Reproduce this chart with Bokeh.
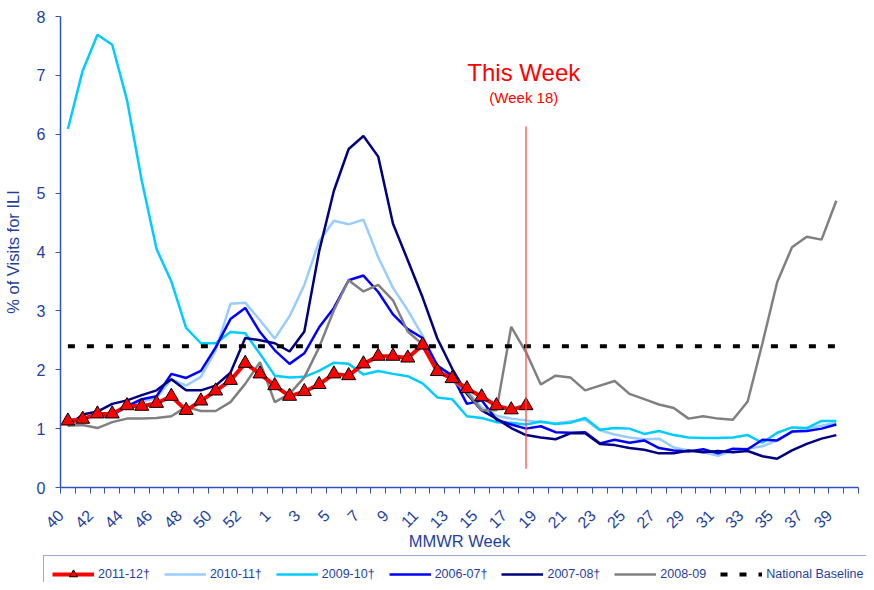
import math
from bokeh.plotting import figure
from bokeh.layouts import column
from bokeh.models import Range1d, FixedTicker, Legend, LegendItem, Label
from bokeh.embed import file_html
from bokeh.resources import INLINE

# MMWR weeks on the x axis (season runs week 40 -> week 39)
weeks = list(range(40, 54)) + list(range(1, 40))

s2011_12 = [1.13, 1.16, 1.25, 1.25, 1.39, 1.38, 1.43, 1.55, 1.31, 1.47, 1.64, 1.82, 2.11, 1.93,
            1.73, 1.55, 1.63, 1.75, 1.93, 1.90, 2.10, 2.23, 2.23, 2.20, 2.42, 1.97, 1.85, 1.68,
            1.54, 1.39, 1.32, 1.39]
s2010_11 = [1.15, 1.18, 1.24, 1.26, 1.38, 1.46, 1.52, 1.84, 1.73, 1.88, 2.33, 3.12, 3.14, 2.84,
            2.53, 2.91, 3.44, 4.18, 4.53, 4.47, 4.55, 3.91, 3.39, 3.01, 2.58, 2.08, 1.87, 1.65,
            1.36, 1.22, 1.17, 1.14, 1.11, 1.09, 1.12, 1.15, 0.97, 0.90, 0.85, 0.82, 0.83, 0.68,
            0.63, 0.60, 0.54, 0.63, 0.66, 0.70, 0.80, 0.94, 1.00, 1.05, 1.10]
s2009_10 = [6.09, 7.08, 7.69, 7.52, 6.58, 5.21, 4.05, 3.50, 2.71, 2.45, 2.45, 2.64, 2.62, 2.27,
            1.90, 1.87, 1.88, 1.98, 2.12, 2.10, 1.92, 1.98, 1.93, 1.89, 1.77, 1.53, 1.50, 1.21,
            1.18, 1.11, 1.10, 1.07, 1.12, 1.08, 1.10, 1.18, 0.98, 1.01, 1.00, 0.91, 0.96, 0.89,
            0.85, 0.84, 0.84, 0.85, 0.89, 0.76, 0.93, 1.02, 1.01, 1.13, 1.13]
s2006_07 = [1.12, 1.18, 1.22, 1.23, 1.38, 1.50, 1.55, 1.93, 1.86, 1.98, 2.38, 2.86, 3.05, 2.64,
            2.33, 2.10, 2.28, 2.72, 3.05, 3.52, 3.60, 3.32, 2.94, 2.69, 2.54, 2.07, 1.90, 1.42,
            1.48, 1.15, 1.07, 1.00, 1.04, 0.94, 0.93, 0.94, 0.75, 0.81, 0.76, 0.80, 0.67, 0.63,
            0.61, 0.65, 0.58, 0.66, 0.65, 0.81, 0.80, 0.95, 0.96, 1.00, 1.07]
s2007_08 = [1.04, 1.24, 1.29, 1.42, 1.48, 1.57, 1.65, 1.84, 1.65, 1.65, 1.73, 1.95, 2.54, 2.50,
            2.45, 2.31, 2.65, 4.01, 5.04, 5.75, 5.97, 5.62, 4.48, 3.86, 3.23, 2.53, 2.02, 1.59,
            1.31, 1.17, 1.01, 0.89, 0.85, 0.82, 0.92, 0.92, 0.74, 0.72, 0.67, 0.64, 0.58, 0.58,
            0.63, 0.60, 0.62, 0.60, 0.62, 0.53, 0.49, 0.63, 0.74, 0.83, 0.89]
s2008_09 = [1.05, 1.06, 1.01, 1.11, 1.17, 1.17, 1.18, 1.21, 1.37, 1.30, 1.30, 1.45, 1.76, 2.13,
            1.45, 1.59, 1.87, 2.38, 3.01, 3.52, 3.33, 3.44, 3.18, 2.65, 2.43, 2.00, 1.82, 1.62,
            1.31, 1.31, 2.73, 2.30, 1.75, 1.90, 1.87, 1.65, 1.73, 1.81, 1.59, 1.50, 1.41, 1.35,
            1.17, 1.21, 1.17, 1.15, 1.46, 2.45, 3.49, 4.08, 4.26, 4.21, 4.87]
national_baseline = 2.4
this_week = 18
y_ticks = [0, 1, 2, 3, 4, 5, 6, 7, 8]

FONT = "Liberation Sans"
AXIS_COLOR = "#3355BB"
TEXT_COLOR = "#1F3FA0"

xs = list(range(len(weeks)))
n_slots = len(weeks) + 1

p = figure(frame_width=798, frame_height=471, output_backend="svg", toolbar_location=None,
           x_range=Range1d(-0.5, n_slots - 0.5), y_range=Range1d(0, 8),
           min_border_left=53, min_border_right=7, min_border_top=16, min_border_bottom=66)
p.frame_align = False
p.outline_line_color = None
p.grid.visible = False
p.background_fill_color = "white"
p.border_fill_color = "white"

# x axis: tick marks between categories, labels on every other week
xa = p.xaxis[0]
bounds = [i - 0.5 for i in range(n_slots + 1)]
xa.ticker = FixedTicker(ticks=bounds, minor_ticks=[])
xa.major_label_overrides = {
    i - 0.5: (str(weeks[i]) if (i < len(weeks) and i % 2 == 0) else "")
    for i in range(n_slots + 1)
}
xa.major_label_orientation = math.pi / 4
xa.major_tick_out = 6
xa.major_tick_in = 0
xa.minor_tick_out = 0
xa.minor_tick_in = 0
xa.major_label_standoff = 19
xa.axis_label = "MMWR Week"
xa.axis_label_standoff = -5

ya = p.yaxis[0]
ya.ticker = FixedTicker(ticks=y_ticks, minor_ticks=[])
ya.major_tick_out = 5
ya.major_tick_in = 0
ya.minor_tick_out = 0
ya.minor_tick_in = 0
ya.major_label_standoff = 10
ya.axis_label = "% of Visits for ILI"
ya.axis_label_standoff = 12

for ax in (xa, ya):
    ax.axis_line_color = AXIS_COLOR
    ax.axis_line_width = 1.5
    ax.major_tick_line_color = AXIS_COLOR
    ax.major_tick_line_width = 1
    ax.major_label_text_color = TEXT_COLOR
    ax.major_label_text_font = FONT
    ax.major_label_text_font_size = "16px"
    ax.axis_label_text_color = TEXT_COLOR
    ax.axis_label_text_font = FONT
    ax.axis_label_text_font_size = "16.5px"
    ax.axis_label_text_font_style = "normal"

lw = 2.5
styles = {
    "2010-11": dict(line_color="#99CCFF", line_width=lw),
    "2009-10": dict(line_color="#00CCFF", line_width=lw),
    "2006-07": dict(line_color="#0000FF", line_width=lw),
    "2007-08": dict(line_color="#000080", line_width=lw),
    "2008-09": dict(line_color="#808080", line_width=lw),
}
base_style = dict(line_color="black", line_width=4, line_dash="7 12")
red_style = dict(line_color="#FF0000", line_width=4)
tri_style = dict(marker="triangle", fill_color="#FF0000", line_color="black", line_width=1)

p.line(xs, s2010_11, **styles["2010-11"])
p.line(xs, s2009_10, **styles["2009-10"])
p.line(xs, s2006_07, **styles["2006-07"])
p.line(xs, s2007_08, **styles["2007-08"])
p.line(xs, s2008_09, **styles["2008-09"])
p.line(xs, [national_baseline] * len(xs), **base_style)

xr = xs[:len(s2011_12)]
p.line(xr, s2011_12, **red_style)
p.scatter(xr, s2011_12, size=14, **tri_style)

# "This Week" marker
tw = weeks.index(this_week, 14)
p.segment(x0=[tw], y0=[0.32], x1=[tw], y1=[6.13], line_color="#FF4A4A", line_width=1.3)
p.add_layout(Label(x=tw - 0.15, y=7.045, text="This Week", text_align="center",
                   text_baseline="middle", text_font=FONT, text_font_size="24px",
                   text_color="#FF0000"))
p.add_layout(Label(x=tw - 0.15, y=6.625, text="(Week %d)" % this_week, text_align="center",
                   text_baseline="middle", text_font=FONT, text_font_size="15px",
                   text_color="#FF0000"))

# Legend strip below the chart (separate canvas so it is not clipped).
# Its series are drawn outside its (empty) view range; only the legend shows.
q = figure(width=866, height=29, output_backend="svg", toolbar_location=None,
           x_axis_location=None, y_axis_location=None,
           x_range=Range1d(-0.5, n_slots - 0.5), y_range=Range1d(-20, -19),
           min_border=0, min_border_left=0, min_border_right=0,
           min_border_top=0, min_border_bottom=0)
q.frame_align = False
q.grid.visible = False
q.outline_line_color = None
q.background_fill_color = "white"
q.border_fill_color = "white"

l_red = q.line(xr, s2011_12, **red_style)
l_tri = q.scatter(xr, s2011_12, size=9, **tri_style)
l_1011 = q.line(xs, s2010_11, **styles["2010-11"])
l_0910 = q.line(xs, s2009_10, **styles["2009-10"])
l_0607 = q.line(xs, s2006_07, **styles["2006-07"])
l_0708 = q.line(xs, s2007_08, **styles["2007-08"])
l_0809 = q.line(xs, s2008_09, **styles["2008-09"])
l_base = q.line(xs, [national_baseline] * len(xs), **base_style)

legend = Legend(items=[
    LegendItem(label="2011-12\u2020", renderers=[l_red, l_tri]),
    LegendItem(label="2010-11\u2020", renderers=[l_1011]),
    LegendItem(label="2009-10\u2020", renderers=[l_0910]),
    LegendItem(label="2006-07\u2020", renderers=[l_0607]),
    LegendItem(label="2007-08\u2020", renderers=[l_0708]),
    LegendItem(label="2008-09", renderers=[l_0809]),
    LegendItem(label="National Baseline", renderers=[l_base]),
], orientation="horizontal", location=(43, -11), glyph_width=42, glyph_height=20,
   label_height=20, label_standoff=4, spacing=14, padding=8, margin=0,
   border_line_color=AXIS_COLOR, border_line_width=1,
   label_text_font=FONT, label_text_font_size="12.5px", label_text_color=TEXT_COLOR,
   background_fill_color="white", background_fill_alpha=1.0)
q.add_layout(legend)

layout = column(p, q, spacing=0)
open("out.html", "w").write(file_html(layout, INLINE))
